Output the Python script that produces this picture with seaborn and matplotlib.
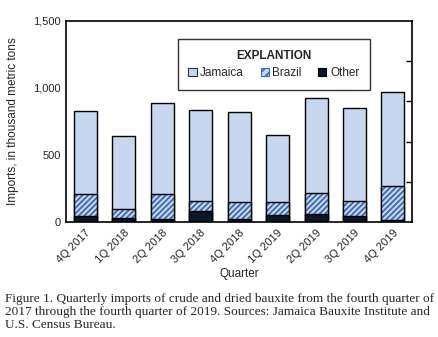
import matplotlib
matplotlib.use("Agg")
import matplotlib.pyplot as plt
import seaborn as sns
import numpy as np
import pandas as pd
from matplotlib.patches import Patch

quarters = ["4Q 2017", "1Q 2018", "2Q 2018", "3Q 2018", "4Q 2018",
            "1Q 2019", "2Q 2019", "3Q 2019", "4Q 2019"]
jamaica = [621, 545, 676, 674, 669, 497, 712, 697, 704]
brazil = [164, 67, 187, 78, 127, 97, 156, 111, 253]
other = [43, 30, 25, 82, 25, 55, 60, 43, 13]

df = pd.DataFrame({"Quarter": quarters, "Jamaica": jamaica,
                   "Brazil": brazil, "Other": other})
df["BrazilTop"] = df["Brazil"] + df["Other"]
df["Total"] = df["Jamaica"] + df["BrazilTop"]

sns.set_style("white")
plt.rcParams['font.family'] = ['Liberation Sans', 'DejaVu Sans']
plt.rcParams['hatch.linewidth'] = 1.3

c_jam = "#c6d7ef"
c_hatch = "#3a69ad"
c_oth = "#0c1628"

fig = plt.figure(figsize=(4.38, 3.37), dpi=100)
ax = fig.add_axes([0.151, 0.341, 0.790, 0.597])

w = 0.6
sns.barplot(data=df, x="Quarter", y="Total", color=c_jam, width=w,
            edgecolor="black", linewidth=1.0, saturation=1, ax=ax)
sns.barplot(data=df, x="Quarter", y="BrazilTop", color=c_jam, width=w,
            edgecolor=c_hatch, hatch="//////", linewidth=0, saturation=1, ax=ax)
sns.barplot(data=df, x="Quarter", y="BrazilTop", fill=False, width=w,
            edgecolor="black", linewidth=1.0, ax=ax)
sns.barplot(data=df, x="Quarter", y="Other", color=c_oth, width=w,
            edgecolor="black", linewidth=1.0, saturation=1, ax=ax)

ax.set_xlim(-0.5, 8.5)
ax.set_ylim(0, 1500)
ax.set_yticks([0, 500, 1000, 1500])
ax.set_yticklabels(["0", "500", "1,000", "1,500"], fontsize=8)
ax.set_xticks(range(len(quarters)))
ax.set_xticklabels(quarters, rotation=45, ha="right", rotation_mode="anchor", fontsize=8)
ax.tick_params(axis="both", length=0, pad=4)
ax.set_xlabel("Quarter", fontsize=8.5, labelpad=2)
ax.set_ylabel("Imports, in thousand metric tons", fontsize=8.5, labelpad=10)
for s in ax.spines.values():
    s.set_color("black")
    s.set_linewidth(1.2)

ax2 = ax.twinx()
ax2.set_ylim(0, 1500)
ax2.set_yticks([300, 600, 900, 1200])
ax2.set_yticklabels([])
ax2.tick_params(axis="y", direction="in", length=4, width=1, color="black")
for s in ax2.spines.values():
    s.set_visible(False)

handles = [Patch(facecolor=c_jam, edgecolor="#333333", linewidth=0.8),
           Patch(facecolor=c_jam, edgecolor=c_hatch, hatch="////", linewidth=0.8),
           Patch(facecolor=c_oth, edgecolor="black", linewidth=0.8)]
leg = fig.legend(handles, ["Jamaica", "Brazil", "Other"], ncol=3,
                 loc="upper right", bbox_to_anchor=(0.858, 0.902),
                 title="EXPLANTION", title_fontproperties={"weight": "bold", "size": 8.5},
                 fontsize=8.5, handlelength=0.7, handleheight=0.7,
                 handletextpad=0.3, columnspacing=1.4, borderpad=0.9,
                 frameon=True, fancybox=False, edgecolor="black")
leg.get_frame().set_linewidth(1.0)

caption = ("Figure 1. Quarterly imports of crude and dried bauxite from the fourth quarter of\n"
           "2017 through the fourth quarter of 2019. Sources: Jamaica Bauxite Institute and\n"
           "U.S. Census Bureau.")
fig.text(0.011, 0.13, caption, family=["Liberation Serif"], fontsize=9.55,
         va="top", ha="left", linespacing=1.12)

fig.savefig("out.png", dpi=100)
